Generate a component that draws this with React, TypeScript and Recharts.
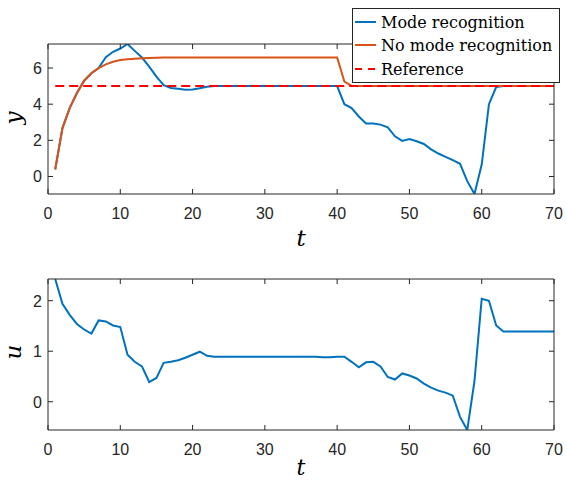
import { Line, LineChart, XAxis, YAxis } from "recharts";

// time samples
const tValues = [
  1, 2, 3, 4, 5, 6, 7, 8, 9, 10, 11, 12, 13, 14, 15, 16, 17, 18, 19, 20,
  21, 22, 23, 24, 25, 26, 27, 28, 29, 30, 31, 32, 33, 34, 35, 36, 37, 38, 39, 40,
  41, 42, 43, 44, 45, 46, 47, 48, 49, 50, 51, 52, 53, 54, 55, 56, 57, 58, 59, 60,
  61, 62, 63, 64, 65, 66, 67, 68, 69, 70,
];

// y with mode recognition
const modeY = [
  0.39, 2.68, 3.78, 4.62, 5.3, 5.71, 6.0, 6.6, 6.9, 7.08,
  7.33, 6.95, 6.58, 6.08, 5.53, 5.05, 4.9, 4.85, 4.8, 4.81,
  4.88, 4.96, 5.0, 5.0, 5.0, 5.0, 5.0, 5.0, 5.0, 5.0,
  5.0, 5.0, 5.0, 5.0, 5.0, 5.0, 5.0, 5.0, 5.0, 5.0,
  4.0, 3.78, 3.32, 2.93, 2.93, 2.87, 2.72, 2.22, 1.97, 2.07,
  1.95, 1.8, 1.5, 1.27, 1.08, 0.9, 0.7, -0.26, -0.97, 0.66,
  4.0, 4.95, 5.0, 5.0, 5.0, 5.0, 5.0, 5.0, 5.0, 5.0,
];

// y without mode recognition
const noModeY = [
  0.39, 2.68, 3.78, 4.62, 5.3, 5.71, 5.99, 6.2, 6.35, 6.44,
  6.49, 6.52, 6.54, 6.56, 6.57, 6.58, 6.58, 6.58, 6.58, 6.58,
  6.58, 6.58, 6.58, 6.58, 6.58, 6.58, 6.58, 6.58, 6.58, 6.58,
  6.58, 6.58, 6.58, 6.58, 6.58, 6.58, 6.58, 6.58, 6.58, 6.58,
  5.25, 5.02, 5.0, 5.0, 5.0, 5.0, 5.0, 5.0, 5.0, 5.0,
  5.0, 5.0, 5.0, 5.0, 5.0, 5.0, 5.0, 5.0, 5.0, 5.0,
  5.0, 5.0, 5.0, 5.0, 5.0, 5.0, 5.0, 5.0, 5.0, 5.0,
];

const refT = [1, 70];
const refY = [5, 5];

// control input u
const controlU = [
  2.43, 1.94, 1.72, 1.54, 1.43, 1.35, 1.61, 1.59, 1.51, 1.48,
  0.93, 0.79, 0.7, 0.39, 0.47, 0.77, 0.79, 0.82, 0.87, 0.93,
  0.99, 0.91, 0.89, 0.89, 0.89, 0.89, 0.89, 0.89, 0.89, 0.89,
  0.89, 0.89, 0.89, 0.89, 0.89, 0.89, 0.89, 0.88, 0.88, 0.89,
  0.89, 0.79, 0.68, 0.78, 0.79, 0.7, 0.49, 0.44, 0.56, 0.52,
  0.46, 0.36, 0.28, 0.22, 0.18, 0.12, -0.3, -0.56, 0.41, 2.04,
  2.0, 1.51, 1.39, 1.39, 1.39, 1.39, 1.39, 1.39, 1.39, 1.39,
];

const xTicks = [0, 10, 20, 30, 40, 50, 60, 70];
const yTicksTop = [0, 2, 4, 6];
const yTicksBottom = [0, 1, 2];
const yDomainTop = [-0.97, 7.33];
const yDomainBottom = [-0.56, 2.43];

const BLUE = "#0072BD";
const ORANGE = "#D95319";
const RED = "#FF0000";
const AXIS = "#262626";
const TICK_FONT = "'Liberation Sans', Arial, sans-serif";
const LATEX_FONT = "'DejaVu Serif', serif";

const topRows = tValues.map((t, i) => ({ t, mode: modeY[i], noMode: noModeY[i] }));
const refRows = refT.map((t, i) => ({ t, ref: refY[i] }));
const bottomRows = tValues.map((t, i) => ({ t, u: controlU[i] }));

// matlab-style ticks: pointing into the box, labels outside
function BottomTick({ x, y, payload }: any) {
  return (
    <g>
      <line x1={x} x2={x} y1={y} y2={y - 5} stroke={AXIS} />
      <text x={x} y={y + 25} textAnchor="middle" fontSize={16} fontFamily={TICK_FONT} fill={AXIS}>
        {payload.value}
      </text>
    </g>
  );
}

function TopTick({ x, y }: any) {
  return <line x1={x} x2={x} y1={y} y2={y + 5} stroke={AXIS} />;
}

function LeftTick({ x, y, payload }: any) {
  return (
    <g>
      <line x1={x} x2={x + 5} y1={y} y2={y} stroke={AXIS} />
      <text x={x - 6} y={y + 6} textAnchor="end" fontSize={16} fontFamily={TICK_FONT} fill={AXIS}>
        {payload.value}
      </text>
    </g>
  );
}

function RightTick({ x, y }: any) {
  return <line x1={x} x2={x - 5} y1={y} y2={y} stroke={AXIS} />;
}

const axisLine = { stroke: AXIS, strokeWidth: 1 };

// top + right edges of the box
function mirrorAxes(domain: number[], ticks: number[]) {
  return [
    <XAxis
      key="xt"
      xAxisId="top"
      orientation="top"
      dataKey="t"
      type="number"
      domain={[0, 70]}
      ticks={xTicks}
      interval={0}
      height={1}
      tickSize={0}
      tickMargin={0}
      tick={<TopTick />}
      axisLine={axisLine}
      allowDataOverflow
    />,
    <YAxis
      key="yr"
      yAxisId="right"
      orientation="right"
      type="number"
      domain={domain}
      ticks={ticks}
      interval={0}
      width={1}
      tickSize={0}
      tickMargin={0}
      tick={<RightTick />}
      axisLine={axisLine}
      allowDataOverflow
    />,
  ];
}

function Legend() {
  const row = { position: "absolute" as const, left: 0, height: 24, display: "flex", alignItems: "center" };
  const text = { fontFamily: LATEX_FONT, fontSize: 16, color: "#000", marginLeft: 3 };
  return (
    <div
      style={{
        position: "absolute",
        left: 352,
        top: 8,
        width: 206,
        height: 73,
        border: `1px solid ${AXIS}`,
        background: "#fff",
      }}
    >
      <div style={{ ...row, top: 1 }}>
        <svg width={23} height={4} style={{ marginLeft: 2 }}>
          <line x1={0} x2={21} y1={2} y2={2} stroke={BLUE} strokeWidth={2} />
        </svg>
        <span style={text}>Mode recognition</span>
      </div>
      <div style={{ ...row, top: 24 }}>
        <svg width={23} height={4} style={{ marginLeft: 2 }}>
          <line x1={0} x2={21} y1={2} y2={2} stroke={ORANGE} strokeWidth={2} />
        </svg>
        <span style={text}>No mode recognition</span>
      </div>
      <div style={{ ...row, top: 48 }}>
        <svg width={23} height={4} style={{ marginLeft: 2 }}>
          <line x1={0} x2={21} y1={2} y2={2} stroke={RED} strokeWidth={2} strokeDasharray="7 6" />
        </svg>
        <span style={text}>Reference</span>
      </div>
    </div>
  );
}

export default function App() {
  return (
    <div style={{ position: "fixed", left: 0, top: 0, width: 567, height: 482, background: "#fff" }}>
      <div style={{ position: "absolute", left: 0, top: 0 }}>
        <LineChart width={567} height={256} data={topRows} margin={{ top: 43, right: 12, bottom: 0, left: 0 }}>
          <XAxis
            dataKey="t"
            type="number"
            domain={[0, 70]}
            ticks={xTicks}
            interval={0}
            height={62}
            tickSize={0}
            tickMargin={0}
            tick={<BottomTick />}
            axisLine={axisLine}
            allowDataOverflow
          />
          <YAxis
            type="number"
            domain={yDomainTop}
            ticks={yTicksTop}
            interval={0}
            width={48}
            tickSize={0}
            tickMargin={0}
            tick={<LeftTick />}
            axisLine={axisLine}
            allowDataOverflow
          />
          {mirrorAxes(yDomainTop, yTicksTop)}
          {/* invisible, only so the mirror axes get drawn */}
          <Line
            xAxisId="top"
            yAxisId="right"
            dataKey="mode"
            stroke="none"
            dot={false}
            legendType="none"
            isAnimationActive={false}
          />
          <Line dataKey="mode" stroke={BLUE} strokeWidth={2} dot={false} isAnimationActive={false} />
          <Line dataKey="noMode" stroke={ORANGE} strokeWidth={2} dot={false} isAnimationActive={false} />
          <Line
            data={refRows}
            dataKey="ref"
            stroke={RED}
            strokeWidth={2}
            strokeDasharray="9 5"
            dot={false}
            isAnimationActive={false}
          />
          <text x={301} y={246} textAnchor="middle" fontSize={23} fontStyle="italic" fontFamily={LATEX_FONT} fill="#000">
            t
          </text>
          <text
            x={13}
            y={118}
            transform="rotate(-90, 13, 118)"
            textAnchor="middle"
            dominantBaseline="central"
            fontSize={23}
            fontStyle="italic"
            fontFamily={LATEX_FONT}
            fill="#000"
          >
            y
          </text>
        </LineChart>
      </div>
      <div style={{ position: "absolute", left: 0, top: 235 }}>
        <LineChart width={567} height={247} data={bottomRows} margin={{ top: 43, right: 12, bottom: 0, left: 0 }}>
          <XAxis
            dataKey="t"
            type="number"
            domain={[0, 70]}
            ticks={xTicks}
            interval={0}
            height={52}
            tickSize={0}
            tickMargin={0}
            tick={<BottomTick />}
            axisLine={axisLine}
            allowDataOverflow
          />
          <YAxis
            type="number"
            domain={yDomainBottom}
            ticks={yTicksBottom}
            interval={0}
            width={48}
            tickSize={0}
            tickMargin={0}
            tick={<LeftTick />}
            axisLine={axisLine}
            allowDataOverflow
          />
          {mirrorAxes(yDomainBottom, yTicksBottom)}
          <Line
            xAxisId="top"
            yAxisId="right"
            dataKey="u"
            stroke="none"
            dot={false}
            legendType="none"
            isAnimationActive={false}
          />
          <Line dataKey="u" stroke={BLUE} strokeWidth={2} dot={false} isAnimationActive={false} />
          <text x={301} y={240} textAnchor="middle" fontSize={22} fontStyle="italic" fontFamily={LATEX_FONT} fill="#000">
            t
          </text>
          <text
            x={13}
            y={117}
            transform="rotate(-90, 13, 117)"
            textAnchor="middle"
            dominantBaseline="central"
            fontSize={23}
            fontStyle="italic"
            fontFamily={LATEX_FONT}
            fill="#000"
          >
            u
          </text>
        </LineChart>
      </div>
      <Legend />
    </div>
  );
}
